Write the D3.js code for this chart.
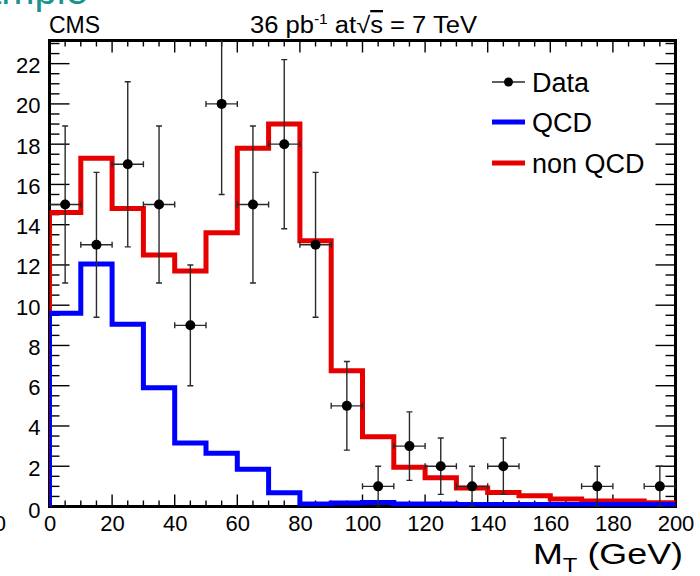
<!DOCTYPE html>
<html>
<head>
<meta charset="utf-8">
<script src="https://cdn.jsdelivr.net/npm/d3@7"></script>
<style>
  html, body { margin: 0; padding: 0; background: #fff; }
  svg { display: block; }
  text { font-family: "Liberation Sans", Arial, Helvetica, sans-serif; fill: #000; }
</style>
</head>
<body>
<svg id="chart" width="700" height="576"></svg>
<script>
// Histogram bins (lower edges, GeV), 10 GeV wide
const binLow = [0, 10, 20, 30, 40, 50, 60, 70, 80, 90, 100, 110, 120, 130, 140, 150, 160, 170, 180, 190];
const binWidth = 10;

// Expected events per bin
const nonQcd = [14.6, 17.3, 14.8, 12.5, 11.7, 13.6, 17.8, 19.0, 13.2, 6.75, 3.47, 1.95, 1.43, 0.92, 0.69, 0.54, 0.37, 0.27, 0.27, 0.19];
const qcd    = [9.6, 12.05, 9.05, 5.9, 3.15, 2.65, 1.85, 0.68, 0.12, 0.18, 0.2, 0.12, 0.12, 0.1, 0.1, 0.1, 0.1, 0.1, 0.1, 0.1];

// Observed data: bin centres, counts and statistical errors
const dataX   = [5, 15, 25, 35, 45, 55, 65, 75, 85, 95, 105, 115, 125, 135, 145, 175, 195];
const dataY   = [15, 13, 17, 15, 9, 20, 15, 18, 13, 5, 1, 3, 2, 1, 2, 1, 1];
const dataErr = [3.9, 3.6, 4.1, 3.9, 3.0, 4.5, 3.9, 4.2, 3.6, 2.2, 1.0, 1.7, 1.4, 1.0, 1.4, 1.0, 1.0];

const xTicks = [0, 20, 40, 60, 80, 100, 120, 140, 160, 180, 200];
const yTicks = [0, 2, 4, 6, 8, 10, 12, 14, 16, 18, 20, 22];

const legendNames = ["Data", "QCD", "non QCD"];
const colors = { qcd: "#0000ff", nonQcd: "#e60000", data: "#000", err: "#2a2a2a" };

const svg = d3.select("#chart");
const frame = { left: 49.5, right: 675.5, top: 40.5, bottom: 506.5 };

const x = d3.scaleLinear().domain([0, 200]).range([frame.left, frame.right]);
const y = d3.scaleLinear().domain([0, 23.15]).range([frame.bottom, frame.top]);

// Partially visible heading above the pad
svg.append("text")
  .attr("x", 88).attr("y", 4)
  .attr("text-anchor", "end")
  .style("font-size", "40px")
  .style("fill", "#17948f")
  .text("Sample");

// Clip for the plotting area
svg.append("clipPath").attr("id", "plotClip")
  .append("rect")
  .attr("x", frame.left).attr("y", frame.top)
  .attr("width", frame.right - frame.left).attr("height", frame.bottom - frame.top);

// Axes: major ticks labelled, minor ticks every 5 GeV / 0.5 events, mirrored on the opposite sides
const xMinor = d3.range(0, 200.01, 5);
const yMinor = d3.range(0, 23.01, 0.5);

const gTicks = svg.append("g").attr("stroke", "#000").attr("stroke-width", 1.4);
xMinor.forEach(v => {
  const major = Math.abs(v % 20) < 1e-9;
  const len = major ? 12 : 6;
  gTicks.append("line").attr("x1", x(v)).attr("x2", x(v))
    .attr("y1", frame.bottom).attr("y2", frame.bottom - len);
  gTicks.append("line").attr("x1", x(v)).attr("x2", x(v))
    .attr("y1", frame.top).attr("y2", frame.top + len);
});
yMinor.forEach(v => {
  const major = Math.abs(v % 2) < 1e-9;
  const len = major ? 20 : 10;
  gTicks.append("line").attr("y1", y(v)).attr("y2", y(v))
    .attr("x1", frame.left).attr("x2", frame.left + len);
  gTicks.append("line").attr("y1", y(v)).attr("y2", y(v))
    .attr("x1", frame.right).attr("x2", frame.right - len);
});

// Frame
svg.append("rect")
  .attr("x", frame.left).attr("y", frame.top)
  .attr("width", frame.right - frame.left).attr("height", frame.bottom - frame.top)
  .attr("fill", "none").attr("stroke", "#000").attr("stroke-width", 3);

// Tick labels
const xAxis = d3.axisBottom(x).tickValues(xTicks).tickSize(0).tickPadding(0).tickFormat(d3.format("d"));
const gx = svg.append("g").attr("transform", `translate(0,${frame.bottom})`).call(xAxis);
gx.select(".domain").remove();
gx.selectAll("text")
  .attr("y", 24).attr("dy", 0)
  .style("font-size", "22px")
  .style("font-family", "'Liberation Sans', Arial, sans-serif");

const yAxis = d3.axisLeft(y).tickValues(yTicks).tickSize(0).tickPadding(0).tickFormat(d3.format("d"));
const gy = svg.append("g").attr("transform", `translate(${frame.left - 9},0)`).call(yAxis);
gy.select(".domain").remove();
gy.selectAll("text")
  .attr("x", 0).attr("dy", "0.36em")
  .attr("transform", d => d === 0 ? "translate(0,3)" : "translate(0,1)")
  .style("font-size", "22px")
  .style("font-family", "'Liberation Sans', Arial, sans-serif");

// Tail of the neighbouring pad's axis label
svg.append("text").attr("x", 6).attr("y", frame.bottom + 24)
  .attr("text-anchor", "end").style("font-size", "22px").text("200");

// Step outline of a histogram
function stepPoints(vals) {
  const pts = [[binLow[0], 0]];
  vals.forEach((v, i) => {
    pts.push([binLow[i], v]);
    pts.push([binLow[i] + binWidth, v]);
  });
  pts.push([binLow[binLow.length - 1] + binWidth, 0]);
  return pts;
}
const stepLine = d3.line().x(d => x(d[0])).y(d => y(d[1]));

const gHist = svg.append("g").attr("clip-path", "url(#plotClip)");
gHist.append("path").datum(stepPoints(nonQcd))
  .attr("d", stepLine).attr("fill", "none")
  .attr("stroke", colors.nonQcd).attr("stroke-width", 5).attr("stroke-linejoin", "miter");
gHist.append("path").datum(stepPoints(qcd))
  .attr("d", stepLine).attr("fill", "none")
  .attr("stroke", colors.qcd).attr("stroke-width", 5).attr("stroke-linejoin", "miter");

// Data points with error bars
const gData = svg.append("g").attr("clip-path", "url(#plotClip)");
const capV = 3, capH = 3;
dataX.forEach((cx, i) => {
  const g = gData.append("g").attr("stroke", colors.err).attr("stroke-width", 1.4);
  const lo = Math.max(0, dataY[i] - dataErr[i]), hi = dataY[i] + dataErr[i];
  g.append("line").attr("x1", x(cx)).attr("x2", x(cx)).attr("y1", y(lo)).attr("y2", y(hi));
  g.append("line").attr("x1", x(cx) - capV).attr("x2", x(cx) + capV).attr("y1", y(hi)).attr("y2", y(hi));
  g.append("line").attr("x1", x(cx) - capV).attr("x2", x(cx) + capV).attr("y1", y(lo)).attr("y2", y(lo));
  const xl = cx - binWidth / 2, xr = cx + binWidth / 2;
  g.append("line").attr("x1", x(xl)).attr("x2", x(xr)).attr("y1", y(dataY[i])).attr("y2", y(dataY[i]));
  g.append("line").attr("x1", x(xl)).attr("x2", x(xl)).attr("y1", y(dataY[i]) - capH).attr("y2", y(dataY[i]) + capH);
  g.append("line").attr("x1", x(xr)).attr("x2", x(xr)).attr("y1", y(dataY[i]) - capH).attr("y2", y(dataY[i]) + capH);
  gData.append("circle").attr("cx", x(cx)).attr("cy", y(dataY[i])).attr("r", 5).attr("fill", colors.data);
});

// Headings
svg.append("text").attr("x", 49).attr("y", 33).style("font-size", "23px").text("CMS");
const lumi = svg.append("text").attr("x", 250).attr("y", 33).style("font-size", "23px")
  .attr("textLength", 227).attr("lengthAdjust", "spacingAndGlyphs");
lumi.append("tspan").text("36 pb");
lumi.append("tspan").attr("dy", -9).style("font-size", "14px").text("-1");
lumi.append("tspan").attr("dy", 9).text(" at");
lumi.append("tspan").text("\u221A");
lumi.append("tspan").style("text-decoration", "overline").text("s");
lumi.append("tspan").text(" = 7 TeV");

// Legend
const legend = svg.append("g");
const legY = [82, 122, 163];
legend.append("line").attr("x1", 492).attr("x2", 525).attr("y1", legY[0]).attr("y2", legY[0])
  .attr("stroke", colors.err).attr("stroke-width", 1.4);
legend.append("circle").attr("cx", 508.5).attr("cy", legY[0]).attr("r", 4.5).attr("fill", colors.data);
legend.append("line").attr("x1", 492).attr("x2", 525).attr("y1", legY[1]).attr("y2", legY[1])
  .attr("stroke", colors.qcd).attr("stroke-width", 5);
legend.append("line").attr("x1", 492).attr("x2", 525).attr("y1", legY[2]).attr("y2", legY[2])
  .attr("stroke", colors.nonQcd).attr("stroke-width", 5);
legendNames.forEach((name, i) => {
  legend.append("text").attr("x", 532).attr("y", legY[i] + 9.5)
    .style("font-size", "27px").text(name);
});

// Axis title
const title = svg.append("text").attr("x", 533).attr("y", 564).style("font-size", "30px")
  .attr("textLength", 150).attr("lengthAdjust", "spacingAndGlyphs");
title.append("tspan").text("M");
title.append("tspan").attr("dy", 8).style("font-size", "20px").text("T");
title.append("tspan").attr("dy", -8).text(" (GeV)");
</script>
</body>
</html>
